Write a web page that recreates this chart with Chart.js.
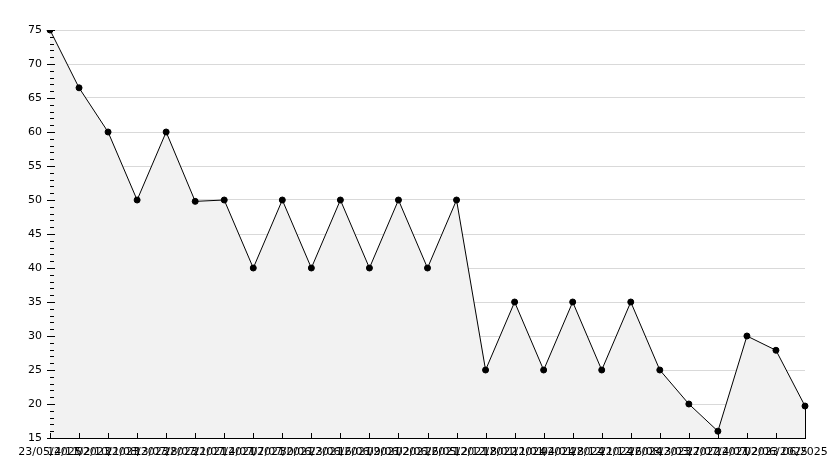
<!DOCTYPE html>
<html>
<head>
<meta charset="utf-8">
<script src="https://cdn.jsdelivr.net/npm/chart.js@4/dist/chart.umd.min.js"></script>
<style>
  html, body { margin: 0; padding: 0; background: #fff; }
  #wrap { width: 834px; height: 468px; position: relative; }
</style>
</head>
<body>
<div id="wrap"><canvas id="stockChart"></canvas></div>
<script>
const dates = [
    '23/05/2025', '14/11/2023', '02/10/2023', '21/08/2023', '13/07/2023',
    '28/07/2021', '21/07/2021', '14/07/2021', '07/07/2021', '30/06/2021',
    '23/06/2021', '16/06/2021', '09/06/2021', '02/06/2021', '26/05/2021',
    '12/12/2022', '18/01/2024', '11/01/2024', '04/01/2024', '28/12/2024',
    '21/12/2024', '26/08/2023', '13/03/2022', '27/07/2021', '14/07/2023',
    '02/06/2025', '06/2025'
];
const values = [
    75, 66.5, 60, 50, 60,
    49.8, 50, 40, 50, 40,
    50, 40, 50, 40, 50,
    25, 35, 25, 35, 25,
    35, 25, 20, 16, 30,
    27.9, 19.7
];
const yMin = 15;
const yMax = 75;
const yStep = 5;

// inner tick marks (major + minor) and the closing edge of the fill
const axisMarks = {
    id: 'axisMarks',
    afterDatasetsDraw(chart) {
        const { ctx, chartArea, scales } = chart;
        const x = scales.x, y = scales.y;
        ctx.save();
        ctx.strokeStyle = '#000';
        ctx.lineWidth = 1;
        ctx.beginPath();
        for (let v = yMin; v <= yMax; v++) {
            const py = Math.round(y.getPixelForValue(v)) + 0.5;
            const major = v % yStep === 0;
            ctx.moveTo(chartArea.left - (major ? 3 : 0), py);
            ctx.lineTo(chartArea.left + (major ? 5 : 4), py);
        }
        dates.forEach((d, i) => {
            const px = Math.round(x.getPixelForValue(i)) + 0.5;
            ctx.moveTo(px, chartArea.bottom);
            ctx.lineTo(px, chartArea.bottom - 5);
        });
        const meta = chart.getDatasetMeta(0);
        const last = meta.data[meta.data.length - 1];
        ctx.moveTo(Math.round(last.x) + 0.5, last.y);
        ctx.lineTo(Math.round(last.x) + 0.5, chartArea.bottom);
        ctx.stroke();
        ctx.restore();
    }
};

new Chart(document.getElementById('stockChart'), {
    type: 'line',
    data: {
        labels: dates,
        datasets: [{
            data: values,
            borderColor: '#000000',
            backgroundColor: '#f2f2f2',
            borderWidth: 1,
            fill: 'start',
            tension: 0,
            pointRadius: 3,
            pointHoverRadius: 3,
            pointBackgroundColor: '#000000',
            pointBorderColor: '#000000',
            pointBorderWidth: 1
        }]
    },
    options: {
        responsive: true,
        maintainAspectRatio: false,
        animation: false,
        layout: {
            padding: { top: 30, right: 29, bottom: 0, left: 0 }
        },
        scales: {
            x: {
                offset: false,
                grid: { display: false },
                border: { display: true, color: '#000000', width: 1 },
                ticks: {
                    autoSkip: false,
                    maxRotation: 0,
                    minRotation: 0,
                    padding: 0,
                    color: '#000000',
                    font: { family: 'DejaVu Sans', size: 11 }
                },
                afterFit(scale) { scale.height = 30; }
            },
            y: {
                min: yMin,
                max: yMax,
                grid: {
                    drawTicks: false,
                    color: '#d9d9d9',
                    lineWidth: 1
                },
                border: { display: true, color: '#000000', width: 1 },
                ticks: {
                    stepSize: yStep,
                    padding: 8,
                    color: '#000000',
                    font: { family: 'DejaVu Sans', size: 11 }
                },
                afterFit(scale) { scale.width = 50; }
            }
        },
        plugins: {
            legend: { display: false },
            tooltip: { enabled: false }
        }
    },
    plugins: [axisMarks]
});
</script>
</body>
</html>
